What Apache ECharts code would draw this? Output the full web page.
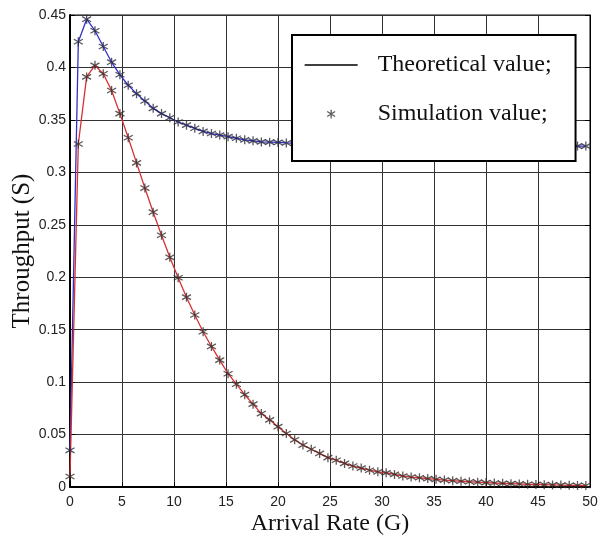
<!DOCTYPE html>
<html>
<head>
<meta charset="utf-8">
<script src="https://cdn.jsdelivr.net/npm/echarts@6/dist/echarts.min.js"></script>
<style>html,body{margin:0;padding:0;background:#fff;}#c{width:611px;height:542px;}</style>
</head>
<body>
<div id="c"></div>
<script>
const arrivalRate = [0,0.8,1.6,2.4,3.2,4,4.8,5.6,6.4,7.2,8,8.8,9.6,10.4,11.2,12,12.8,13.6,14.4,15.2,16,16.8,17.6,18.4,19.2,20,20.8,21.6,22.4,23.2,24,24.8,25.6,26.4,27.2,28,28.8,29.6,30.4,31.2,32,32.8,33.6,34.4,35.2,36,36.8,37.6,38.4,39.2,40,40.8,41.6,42.4,43.2,44,44.8,45.6,46.4,47.2,48,48.8,49.6];
const throughputBlue = [0.035,0.4245,0.446,0.435,0.420,0.405,0.393,0.383,0.375,0.368,0.361,0.356,0.352,0.348,0.345,0.342,0.339,0.337,0.3355,0.334,0.3325,0.331,0.330,0.329,0.3288,0.3285,0.328,0.3277,0.3274,0.3271,0.3269,0.3267,0.3265,0.3263,0.3262,0.3261,0.326,0.3259,0.3258,0.3257,0.3257,0.3256,0.3256,0.3255,0.3255,0.3254,0.3254,0.3254,0.3253,0.3253,0.3253,0.3252,0.3252,0.3252,0.3252,0.3251,0.3251,0.3251,0.3251,0.325,0.325,0.325,0.325];
const throughputRed = [0.01,0.327,0.391,0.402,0.394,0.378,0.356,0.333,0.309,0.285,0.262,0.240,0.219,0.1995,0.181,0.164,0.148,0.134,0.121,0.108,0.098,0.088,0.079,0.070,0.064,0.0575,0.051,0.045,0.040,0.036,0.032,0.028,0.0255,0.0225,0.020,0.018,0.016,0.0145,0.0135,0.012,0.0105,0.0095,0.0088,0.008,0.0073,0.0066,0.006,0.0055,0.005,0.0046,0.0042,0.0038,0.0035,0.0032,0.0029,0.0026,0.0024,0.0022,0.002,0.0018,0.0016,0.0015,0.0014];
const xTicks = [0,5,10,15,20,25,30,35,40,45,50];
const yTicks = [0,0.05,0.1,0.15,0.2,0.25,0.3,0.35,0.4,0.45];
const legendNames = ['Theoretical value;','Simulation value;'];
const xName = 'Arrival Rate (G)';
const yName = 'Throughput (S)';

const starPath = 'path://M0,-5L0,5M-4.5,-2.8L4.5,2.8M-4.5,2.8L4.5,-2.8';
const starIcon = 'path://M0,-5L0,5M-4.5,-2.8L4.5,2.8M-4.5,2.8L4.5,-2.8M-8,-8M8,8';
const pair = (ys) => arrivalRate.map((x, i) => [x, ys[i]]);

const chart = echarts.init(document.getElementById('c'), null, {renderer: 'canvas'});
const labelFont = {fontFamily: 'Liberation Sans, Arial, sans-serif', fontSize: 14, color: '#222'};
const serif = 'Liberation Serif, Times New Roman, serif';
chart.setOption({
  animation: false,
  backgroundColor: '#fff',
  grid: {left: 70, right: 21, top: 15, bottom: 55, show: true, borderColor: '#000', borderWidth: 1,
         containLabel: false, outerBoundsMode: 'none'},
  legend: {
    orient: 'vertical', left: 292, top: 35,
    backgroundColor: '#fff', borderColor: '#000', borderWidth: 2,
    padding: [17, 24, 34, 12], itemGap: 23,
    itemWidth: 53, itemHeight: 14,
    textStyle: {fontFamily: serif, fontSize: 24, color: '#111', lineHeight: 26, padding: [0, 0, 0, 15]},
    data: [
      {name: legendNames[0], icon: 'path://M0,0L53,0M0,-7M53,7', itemStyle: {color: 'transparent', borderColor: '#000', borderWidth: 1.3}, lineStyle: {color: '#000', width: 1.3}},
      {name: legendNames[1], icon: starIcon, itemStyle: {color: 'transparent', borderColor: '#333', borderWidth: 1.3}}
    ]
  },
  xAxis: [{
    type: 'value', min: xTicks[0], max: xTicks[xTicks.length - 1], interval: xTicks[1] - xTicks[0],
    name: xName, nameLocation: 'middle', nameGap: 25, nameMoveOverlap: false,
    nameTextStyle: {fontFamily: serif, fontSize: 24, color: '#111'},
    axisLine: {show: true, lineStyle: {color: '#000', width: 2}},
    axisTick: {show: true, inside: true, length: 5, lineStyle: {color: '#000'}},
    axisLabel: Object.assign({margin: 8}, labelFont),
    splitLine: {show: true, lineStyle: {color: '#333', width: 1}}
  }],
  yAxis: [{
    type: 'value', min: yTicks[0], max: yTicks[yTicks.length - 1], interval: yTicks[1] - yTicks[0],
    name: yName, nameLocation: 'middle', nameGap: 35, nameMoveOverlap: false,
    nameTextStyle: {fontFamily: serif, fontSize: 25, color: '#111'},
    axisLine: {show: true, lineStyle: {color: '#000', width: 2}},
    axisTick: {show: true, inside: true, length: 5, lineStyle: {color: '#000'}},
    axisLabel: Object.assign({margin: 4, formatter: v => String(+v.toFixed(2))}, labelFont),
    splitLine: {show: true, lineStyle: {color: '#333', width: 1}}
  }, {
    type: 'value', position: 'right', min: yTicks[0], max: yTicks[yTicks.length - 1], interval: yTicks[1] - yTicks[0],
    axisLine: {show: true, lineStyle: {color: '#000', width: 1}},
    axisTick: {show: true, inside: true, length: 5, lineStyle: {color: '#000'}},
    axisLabel: {show: false}, splitLine: {show: false}
  }],
  series: [
    {name: legendNames[0], type: 'line', data: pair(throughputBlue), symbol: 'none', lineStyle: {color: '#3030c8', width: 1.3}, z: 2},
    {name: legendNames[0], type: 'line', data: pair(throughputRed), symbol: 'none', lineStyle: {color: '#d83030', width: 1.3}, z: 2},
    {name: legendNames[1], type: 'scatter', data: pair(throughputBlue), symbol: starPath, symbolSize: 9,
      itemStyle: {color: 'transparent', borderColor: '#2a2a40', borderWidth: 1.3}, z: 3},
    {name: legendNames[1], type: 'scatter', data: pair(throughputRed), symbol: starPath, symbolSize: 9,
      itemStyle: {color: 'transparent', borderColor: '#3a2a2a', borderWidth: 1.3}, z: 3}
  ]
});
</script>
</body>
</html>
